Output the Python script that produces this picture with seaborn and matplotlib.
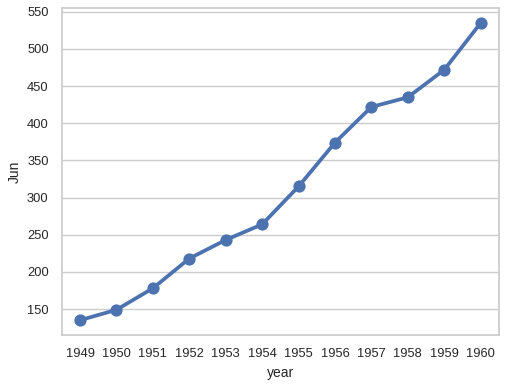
import matplotlib
matplotlib.use("Agg")
import matplotlib.pyplot as plt
import seaborn as sns
import pandas as pd

years = [1949, 1950, 1951, 1952, 1953, 1954, 1955, 1956, 1957, 1958, 1959, 1960]
jun = [135, 149, 178, 218, 243, 264, 315, 374, 422, 435, 472, 535]

sns.set_theme(style="whitegrid", rc={"xtick.labelsize": 9.3, "ytick.labelsize": 9.3,
                                     "axes.labelsize": 10})
plt.rcParams["font.family"] = ["Liberation Sans", "DejaVu Sans"]
df = pd.DataFrame({"year": years, "Jun": jun})

fig = plt.figure(figsize=(5.07, 3.86), dpi=100)
ax = fig.add_axes([0.122, 0.132, 0.862, 0.847])
sns.pointplot(data=df, x="year", y="Jun", ax=ax)
fig.savefig("out.png", dpi=100)
